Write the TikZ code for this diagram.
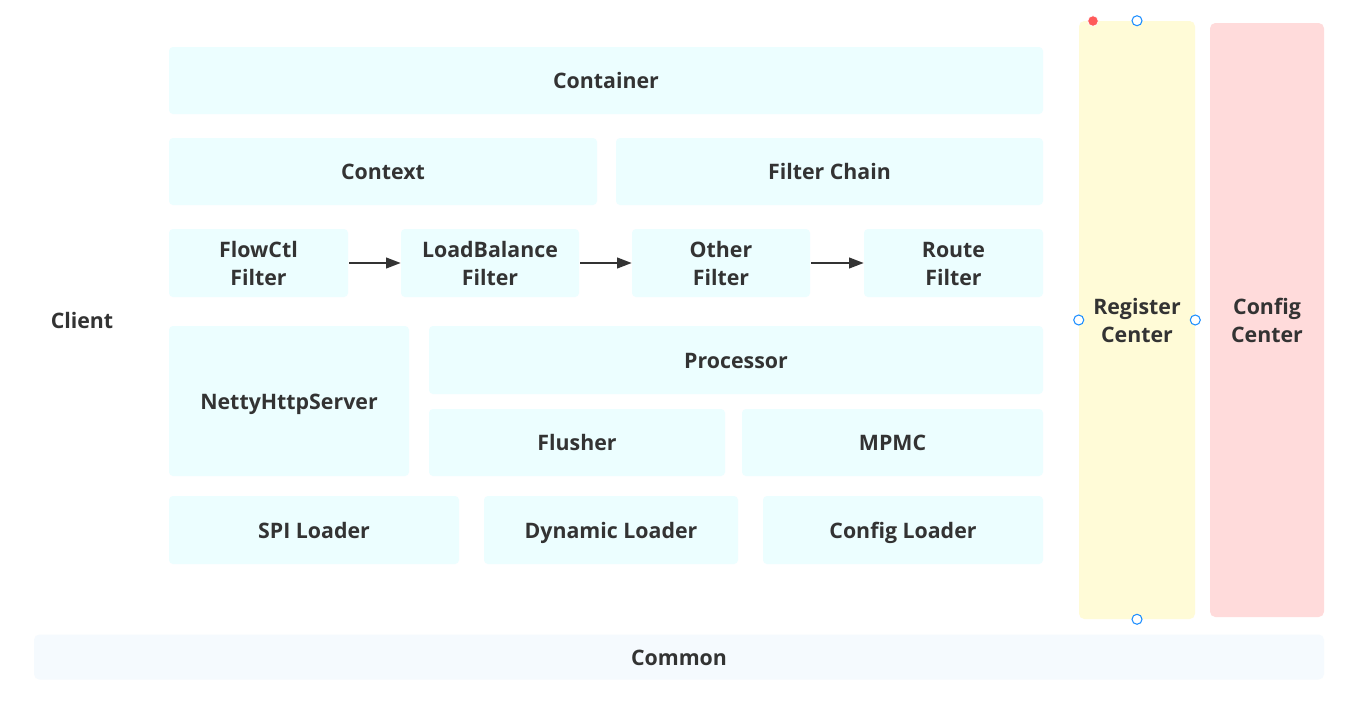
\documentclass[tikz,border=0pt]{standalone}
\usepackage{fontspec}
\setmainfont{Open Sans}
\usetikzlibrary{arrows.meta}
\definecolor{boxc}{HTML}{ECFEFF}
\definecolor{regc}{HTML}{FFFBD7}
\definecolor{cfgc}{HTML}{FFDBDB}
\definecolor{comc}{HTML}{F5FAFE}
\definecolor{txt}{HTML}{333333}
\definecolor{hblue}{HTML}{1E8FFF}
\definecolor{hred}{HTML}{FF5A5A}
\tikzset{
  lbl/.style={font=\fontsize{16}{21}\selectfont\bfseries, text=txt, align=center},
  one/.style={text height=14pt, text depth=1.5pt},
  two/.style={text height=35pt, text depth=1.5pt},
  box/.style={lbl, fill=boxc, rounded corners=3pt, inner sep=0pt},
  flow/.style={draw=txt, line width=1.5pt, -{Triangle[length=11pt,width=8pt]}},
  handle/.style={circle, draw=hblue, fill=white, line width=0.8pt, minimum size=7.5pt, inner sep=0pt},
}
\newcommand{\bx}[7][one]{% opt style, name, x1, y1, x2, y2, text
  \node[box, #1, minimum width={(#5-#3)*0.75pt}, minimum height={(#6-#4)*0.75pt}] (#2) at ({(#3+#5)/2},{(#4+#6)/2}) {#7};}
\begin{document}
\begin{tikzpicture}[x=0.75pt,y=-0.75pt]
\path[fill=white, use as bounding box] (0,0) rectangle (1349,714);
\bx{container}{169}{47}{1043}{114}{Container}
\bx{context}{169}{138}{597}{205}{Context}
\bx{chain}{616}{138}{1043}{205}{Filter Chain}
\bx[two]{flowctl}{169}{229}{348}{297}{FlowCtl\\Filter}
\bx[two]{lb}{401}{229}{579}{297}{LoadBalance\\Filter}
\bx[two]{other}{632}{229}{810}{297}{Other\\Filter}
\bx[two]{route}{864}{229}{1043}{297}{Route\\Filter}
\bx{netty}{169}{326}{409}{476}{NettyHttpServer}
\bx{proc}{429}{326}{1043}{394}{Processor}
\bx{flusher}{429}{409}{725}{476}{Flusher}
\bx{mpmc}{742}{409}{1043}{476}{MPMC}
\bx{spi}{169}{496}{459}{564}{SPI Loader}
\bx{dyn}{484}{496}{738}{564}{Dynamic Loader}
\bx{cfgl}{763}{496}{1043}{564}{Config Loader}
\node[lbl, one] (client) at (82,320) {Client};
\node[lbl, two, fill=regc, rounded corners=4pt, inner sep=0pt, minimum width={116*0.75pt}, minimum height={598*0.75pt}] (reg) at (1137,320) {Register\\Center};
\node[lbl, two, fill=cfgc, rounded corners=4pt, inner sep=0pt, minimum width={114*0.75pt}, minimum height={594*0.75pt}] (cfgc) at (1267,320) {Config\\Center};
\node[lbl, one, fill=comc, rounded corners=4pt, inner sep=0pt, minimum width={1290*0.75pt}, minimum height={45*0.75pt}] (common) at (679,657) {Common};
\draw[flow] (flowctl.east) ++(1,0) -- (lb.west);
\draw[flow] (lb.east) ++(1,0) -- (other.west);
\draw[flow] (other.east) ++(1,0) -- (route.west);
\node[handle] (h1) at (reg.north) {};
\node[handle] (h2) at (reg.south) {};
\node[handle] (h3) at (reg.west) {};
\node[handle] (h4) at (reg.east) {};
\node[circle, fill=hred, draw=white, line width=0.6pt, minimum size=8pt, inner sep=0pt] (rd) at (1093,21) {};
\end{tikzpicture}
\end{document}
